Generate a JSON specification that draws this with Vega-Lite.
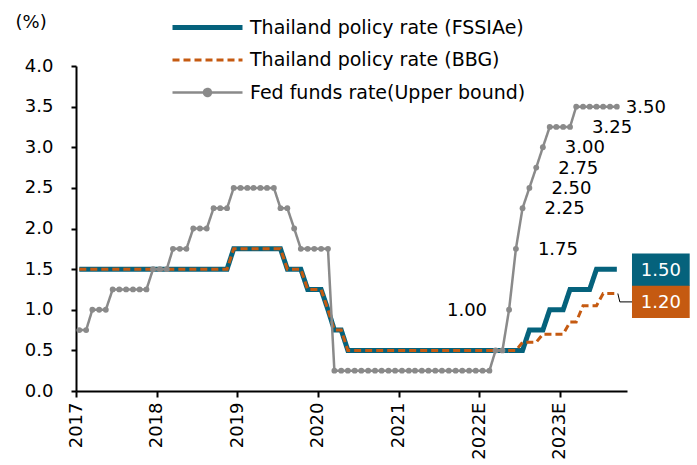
{
  "$schema": "https://vega.github.io/schema/vega-lite/v6.json",
  "autosize": {"type": "none"},
  "width": 551,
  "height": 325,
  "padding": {"left": 76, "top": 66, "right": 70, "bottom": 74},
  "background": "white",
  "config": {
    "view": {"stroke": null},
    "font": "DejaVu Sans",
    "axis": {"labelFont": "DejaVu Sans", "labelFontSize": 18, "labelColor": "black", "domainColor": "black", "domainWidth": 2, "tickColor": "black", "tickWidth": 2, "grid": false, "titleFont": "DejaVu Sans", "titleFontSize": 18, "titleFontWeight": "normal", "titleColor": "black"}
  },
  "data": {"values": [
    {"date": "2017-01-16", "fssia": 1.5, "bbg": 1.5, "fed": 0.75},
    {"date": "2017-02-16", "fssia": 1.5, "bbg": 1.5, "fed": 0.75},
    {"date": "2017-03-16", "fssia": 1.5, "bbg": 1.5, "fed": 1.0},
    {"date": "2017-04-16", "fssia": 1.5, "bbg": 1.5, "fed": 1.0},
    {"date": "2017-05-16", "fssia": 1.5, "bbg": 1.5, "fed": 1.0},
    {"date": "2017-06-16", "fssia": 1.5, "bbg": 1.5, "fed": 1.25},
    {"date": "2017-07-16", "fssia": 1.5, "bbg": 1.5, "fed": 1.25},
    {"date": "2017-08-16", "fssia": 1.5, "bbg": 1.5, "fed": 1.25},
    {"date": "2017-09-16", "fssia": 1.5, "bbg": 1.5, "fed": 1.25},
    {"date": "2017-10-16", "fssia": 1.5, "bbg": 1.5, "fed": 1.25},
    {"date": "2017-11-16", "fssia": 1.5, "bbg": 1.5, "fed": 1.25},
    {"date": "2017-12-16", "fssia": 1.5, "bbg": 1.5, "fed": 1.5},
    {"date": "2018-01-16", "fssia": 1.5, "bbg": 1.5, "fed": 1.5},
    {"date": "2018-02-16", "fssia": 1.5, "bbg": 1.5, "fed": 1.5},
    {"date": "2018-03-16", "fssia": 1.5, "bbg": 1.5, "fed": 1.75},
    {"date": "2018-04-16", "fssia": 1.5, "bbg": 1.5, "fed": 1.75},
    {"date": "2018-05-16", "fssia": 1.5, "bbg": 1.5, "fed": 1.75},
    {"date": "2018-06-16", "fssia": 1.5, "bbg": 1.5, "fed": 2.0},
    {"date": "2018-07-16", "fssia": 1.5, "bbg": 1.5, "fed": 2.0},
    {"date": "2018-08-16", "fssia": 1.5, "bbg": 1.5, "fed": 2.0},
    {"date": "2018-09-16", "fssia": 1.5, "bbg": 1.5, "fed": 2.25},
    {"date": "2018-10-16", "fssia": 1.5, "bbg": 1.5, "fed": 2.25},
    {"date": "2018-11-16", "fssia": 1.5, "bbg": 1.5, "fed": 2.25},
    {"date": "2018-12-16", "fssia": 1.75, "bbg": 1.75, "fed": 2.5},
    {"date": "2019-01-16", "fssia": 1.75, "bbg": 1.75, "fed": 2.5},
    {"date": "2019-02-16", "fssia": 1.75, "bbg": 1.75, "fed": 2.5},
    {"date": "2019-03-16", "fssia": 1.75, "bbg": 1.75, "fed": 2.5},
    {"date": "2019-04-16", "fssia": 1.75, "bbg": 1.75, "fed": 2.5},
    {"date": "2019-05-16", "fssia": 1.75, "bbg": 1.75, "fed": 2.5},
    {"date": "2019-06-16", "fssia": 1.75, "bbg": 1.75, "fed": 2.5},
    {"date": "2019-07-16", "fssia": 1.75, "bbg": 1.75, "fed": 2.25},
    {"date": "2019-08-16", "fssia": 1.5, "bbg": 1.5, "fed": 2.25},
    {"date": "2019-09-16", "fssia": 1.5, "bbg": 1.5, "fed": 2.0},
    {"date": "2019-10-16", "fssia": 1.5, "bbg": 1.5, "fed": 1.75},
    {"date": "2019-11-16", "fssia": 1.25, "bbg": 1.25, "fed": 1.75},
    {"date": "2019-12-16", "fssia": 1.25, "bbg": 1.25, "fed": 1.75},
    {"date": "2020-01-16", "fssia": 1.25, "bbg": 1.25, "fed": 1.75},
    {"date": "2020-02-16", "fssia": 1.0, "bbg": 1.0, "fed": 1.75},
    {"date": "2020-03-16", "fssia": 0.75, "bbg": 0.75, "fed": 0.25},
    {"date": "2020-04-16", "fssia": 0.75, "bbg": 0.75, "fed": 0.25},
    {"date": "2020-05-16", "fssia": 0.5, "bbg": 0.5, "fed": 0.25},
    {"date": "2020-06-16", "fssia": 0.5, "bbg": 0.5, "fed": 0.25},
    {"date": "2020-07-16", "fssia": 0.5, "bbg": 0.5, "fed": 0.25},
    {"date": "2020-08-16", "fssia": 0.5, "bbg": 0.5, "fed": 0.25},
    {"date": "2020-09-16", "fssia": 0.5, "bbg": 0.5, "fed": 0.25},
    {"date": "2020-10-16", "fssia": 0.5, "bbg": 0.5, "fed": 0.25},
    {"date": "2020-11-16", "fssia": 0.5, "bbg": 0.5, "fed": 0.25},
    {"date": "2020-12-16", "fssia": 0.5, "bbg": 0.5, "fed": 0.25},
    {"date": "2021-01-16", "fssia": 0.5, "bbg": 0.5, "fed": 0.25},
    {"date": "2021-02-16", "fssia": 0.5, "bbg": 0.5, "fed": 0.25},
    {"date": "2021-03-16", "fssia": 0.5, "bbg": 0.5, "fed": 0.25},
    {"date": "2021-04-16", "fssia": 0.5, "bbg": 0.5, "fed": 0.25},
    {"date": "2021-05-16", "fssia": 0.5, "bbg": 0.5, "fed": 0.25},
    {"date": "2021-06-16", "fssia": 0.5, "bbg": 0.5, "fed": 0.25},
    {"date": "2021-07-16", "fssia": 0.5, "bbg": 0.5, "fed": 0.25},
    {"date": "2021-08-16", "fssia": 0.5, "bbg": 0.5, "fed": 0.25},
    {"date": "2021-09-16", "fssia": 0.5, "bbg": 0.5, "fed": 0.25},
    {"date": "2021-10-16", "fssia": 0.5, "bbg": 0.5, "fed": 0.25},
    {"date": "2021-11-16", "fssia": 0.5, "bbg": 0.5, "fed": 0.25},
    {"date": "2021-12-16", "fssia": 0.5, "bbg": 0.5, "fed": 0.25},
    {"date": "2022-01-16", "fssia": 0.5, "bbg": 0.5, "fed": 0.25},
    {"date": "2022-02-16", "fssia": 0.5, "bbg": 0.5, "fed": 0.25},
    {"date": "2022-03-16", "fssia": 0.5, "bbg": 0.5, "fed": 0.5},
    {"date": "2022-04-16", "fssia": 0.5, "bbg": 0.5, "fed": 0.5},
    {"date": "2022-05-16", "fssia": 0.5, "bbg": 0.5, "fed": 1.0, "label": "1.00"},
    {"date": "2022-06-16", "fssia": 0.5, "bbg": 0.5, "fed": 1.75, "label": "1.75"},
    {"date": "2022-07-16", "fssia": 0.5, "bbg": 0.6, "fed": 2.25, "label": "2.25"},
    {"date": "2022-08-16", "fssia": 0.75, "bbg": 0.6, "fed": 2.5, "label": "2.50"},
    {"date": "2022-09-16", "fssia": 0.75, "bbg": 0.6, "fed": 2.75, "label": "2.75"},
    {"date": "2022-10-16", "fssia": 0.75, "bbg": 0.7, "fed": 3.0, "label": "3.00"},
    {"date": "2022-11-16", "fssia": 1.0, "bbg": 0.7, "fed": 3.25},
    {"date": "2022-12-16", "fssia": 1.0, "bbg": 0.7, "fed": 3.25},
    {"date": "2023-01-16", "fssia": 1.0, "bbg": 0.7, "fed": 3.25},
    {"date": "2023-02-16", "fssia": 1.25, "bbg": 0.85, "fed": 3.25, "label": "3.25"},
    {"date": "2023-03-16", "fssia": 1.25, "bbg": 0.85, "fed": 3.5},
    {"date": "2023-04-16", "fssia": 1.25, "bbg": 1.05, "fed": 3.5},
    {"date": "2023-05-16", "fssia": 1.25, "bbg": 1.05, "fed": 3.5},
    {"date": "2023-06-16", "fssia": 1.5, "bbg": 1.05, "fed": 3.5},
    {"date": "2023-07-16", "fssia": 1.5, "bbg": 1.2, "fed": 3.5},
    {"date": "2023-08-16", "fssia": 1.5, "bbg": 1.2, "fed": 3.5},
    {"date": "2023-09-16", "fssia": 1.5, "bbg": 1.2, "fed": 3.5, "label": "3.50"}
  ]},
  "layer": [
    {
      "transform": [{"fold": ["fssia", "bbg", "fed"], "as": ["series", "rate"]}],
      "mark": {"type": "line", "interpolate": "linear"},
      "encoding": {
        "x": {"field": "date", "type": "temporal", "title": null,
          "scale": {"type": "utc", "domain": [{"year": 2017, "month": 1, "date": 1, "utc": true}, {"year": 2023, "month": 11, "date": 1, "utc": true}]},
          "axis": {"values": [
            {"year": 2017, "month": 1, "date": 1, "utc": true},
            {"year": 2018, "month": 1, "date": 1, "utc": true},
            {"year": 2019, "month": 1, "date": 1, "utc": true},
            {"year": 2020, "month": 1, "date": 1, "utc": true},
            {"year": 2021, "month": 1, "date": 1, "utc": true},
            {"year": 2022, "month": 1, "date": 1, "utc": true},
            {"year": 2023, "month": 1, "date": 1, "utc": true}],
            "labelExpr": "utcFormat(datum.value, '%Y') + (utcyear(datum.value) >= 2022 ? 'E' : '')",
            "labelAngle": -90, "tickSize": 6, "labelPadding": 5, "labelFlush": false, "labelOverlap": false}},
        "y": {"field": "rate", "type": "quantitative", "title": "(%)",
          "scale": {"domain": [0, 4], "nice": false, "zero": true},
          "axis": {"values": [0, 0.5, 1, 1.5, 2, 2.5, 3, 3.5, 4], "format": ".1f", "tickSize": 5, "labelPadding": 18,
            "titleAngle": 0, "titleAlign": "left", "titleBaseline": "middle", "titleX": -61, "titleY": -44}},
        "color": {"field": "series", "type": "nominal",
          "scale": {"domain": ["fssia", "bbg", "fed"], "range": ["#05627C", "#C55A11", "#8A8A8A"]},
          "legend": {"orient": "none", "legendX": 119, "legendY": -51, "title": null,
            "labelFont": "DejaVu Sans", "labelFontSize": 19, "labelColor": "black", "labelLimit": 500,
            "symbolSize": 400, "symbolType": "stroke", "labelOffset": 30, "rowPadding": 10.5,
            "labelExpr": "datum.value == 'fssia' ? 'Thailand policy rate (FSSIAe)' : datum.value == 'bbg' ? 'Thailand policy rate (BBG)' : 'Fed funds rate(Upper bound)'",
            "encode": {"symbols": {"update": {
              "shape": {"signal": "datum.value == 'fed' ? 'M-3.5,0H3.5M-0.35,0A0.35,0.35,0,1,1,0.35,0A0.35,0.35,0,1,1,-0.35,0Z' : 'M-3.5,0H3.5'"},
              "fill": {"signal": "datum.value == 'fed' ? '#8A8A8A' : 'transparent'"}}}}}},
        "strokeDash": {"field": "series", "type": "nominal",
          "scale": {"domain": ["fssia", "bbg", "fed"], "range": [[1, 0], [7, 4], [1, 0]]}},
        "strokeWidth": {"field": "series", "type": "nominal",
          "scale": {"type": "ordinal", "domain": ["fssia", "bbg", "fed"], "range": [5, 3, 2.5]}}
      }
    },
    {
      "mark": {"type": "point", "shape": "circle", "filled": true, "size": 34, "color": "#8A8A8A", "opacity": 1},
      "encoding": {
        "x": {"field": "date", "type": "temporal"},
        "y": {"field": "fed", "type": "quantitative"}
      }
    },
    {
      "transform": [{"filter": "datum.label != null && datum.label != '1.00' && datum.label != '3.50'"}],
      "mark": {"type": "text", "align": "left", "baseline": "middle", "dx": 22, "dy": 1, "fontSize": 18, "font": "DejaVu Sans", "color": "black"},
      "encoding": {
        "x": {"field": "date", "type": "temporal"},
        "y": {"field": "fed", "type": "quantitative"},
        "text": {"field": "label"}
      }
    },
    {
      "transform": [{"filter": "datum.label == '1.00'"}],
      "mark": {"type": "text", "align": "right", "baseline": "middle", "dx": -22, "dy": 1, "fontSize": 18, "font": "DejaVu Sans", "color": "black"},
      "encoding": {
        "x": {"field": "date", "type": "temporal"},
        "y": {"field": "fed", "type": "quantitative"},
        "text": {"field": "label"}
      }
    },
    {
      "transform": [{"filter": "datum.label == '3.50'"}],
      "mark": {"type": "text", "align": "left", "baseline": "middle", "dx": 9, "dy": 1, "fontSize": 18, "font": "DejaVu Sans", "color": "black"},
      "encoding": {
        "x": {"field": "date", "type": "temporal"},
        "y": {"field": "fed", "type": "quantitative"},
        "text": {"field": "label"}
      }
    },
    {
      "transform": [{"filter": "datum.label == '3.50'"}],
      "mark": {"type": "rule", "color": "black", "strokeWidth": 1, "xOffset": 1, "x2Offset": 3, "yOffset": 0, "y2Offset": 8.4},
      "encoding": {
        "x": {"field": "date", "type": "temporal"},
        "x2": {"field": "date"},
        "y": {"field": "bbg", "type": "quantitative"},
        "y2": {"field": "bbg"}
      }
    },
    {
      "transform": [{"filter": "datum.label == '3.50'"}],
      "mark": {"type": "rule", "color": "black", "strokeWidth": 1, "xOffset": 3, "x2Offset": 16, "yOffset": 8.4, "y2Offset": 8.4},
      "encoding": {
        "x": {"field": "date", "type": "temporal"},
        "x2": {"field": "date"},
        "y": {"field": "bbg", "type": "quantitative"},
        "y2": {"field": "bbg"}
      }
    },
    {
      "transform": [{"filter": "datum.label == '3.50'"}],
      "mark": {"type": "point", "shape": "M-1,-0.56H1V0.56H-1Z", "size": 3330, "filled": true, "color": "#05627C", "opacity": 1, "xOffset": 44, "yOffset": 0.6},
      "encoding": {
        "x": {"field": "date", "type": "temporal"},
        "y": {"field": "fssia", "type": "quantitative"}
      }
    },
    {
      "transform": [{"filter": "datum.label == '3.50'"}],
      "mark": {"type": "point", "shape": "M-1,-0.56H1V0.56H-1Z", "size": 3330, "filled": true, "color": "#C55A11", "opacity": 1, "xOffset": 44, "yOffset": 8.4},
      "encoding": {
        "x": {"field": "date", "type": "temporal"},
        "y": {"field": "bbg", "type": "quantitative"}
      }
    },
    {
      "transform": [{"filter": "datum.label == '3.50'"}],
      "mark": {"type": "text", "align": "center", "baseline": "middle", "dx": 44, "dy": 1.6, "fontSize": 18, "font": "DejaVu Sans", "color": "white"},
      "encoding": {
        "x": {"field": "date", "type": "temporal"},
        "y": {"field": "fssia", "type": "quantitative"},
        "text": {"field": "fssia", "type": "quantitative", "format": ".2f"}
      }
    },
    {
      "transform": [{"filter": "datum.label == '3.50'"}],
      "mark": {"type": "text", "align": "center", "baseline": "middle", "dx": 44, "dy": 9.4, "fontSize": 18, "font": "DejaVu Sans", "color": "white"},
      "encoding": {
        "x": {"field": "date", "type": "temporal"},
        "y": {"field": "bbg", "type": "quantitative"},
        "text": {"field": "bbg", "type": "quantitative", "format": ".2f"}
      }
    }
  ]
}
